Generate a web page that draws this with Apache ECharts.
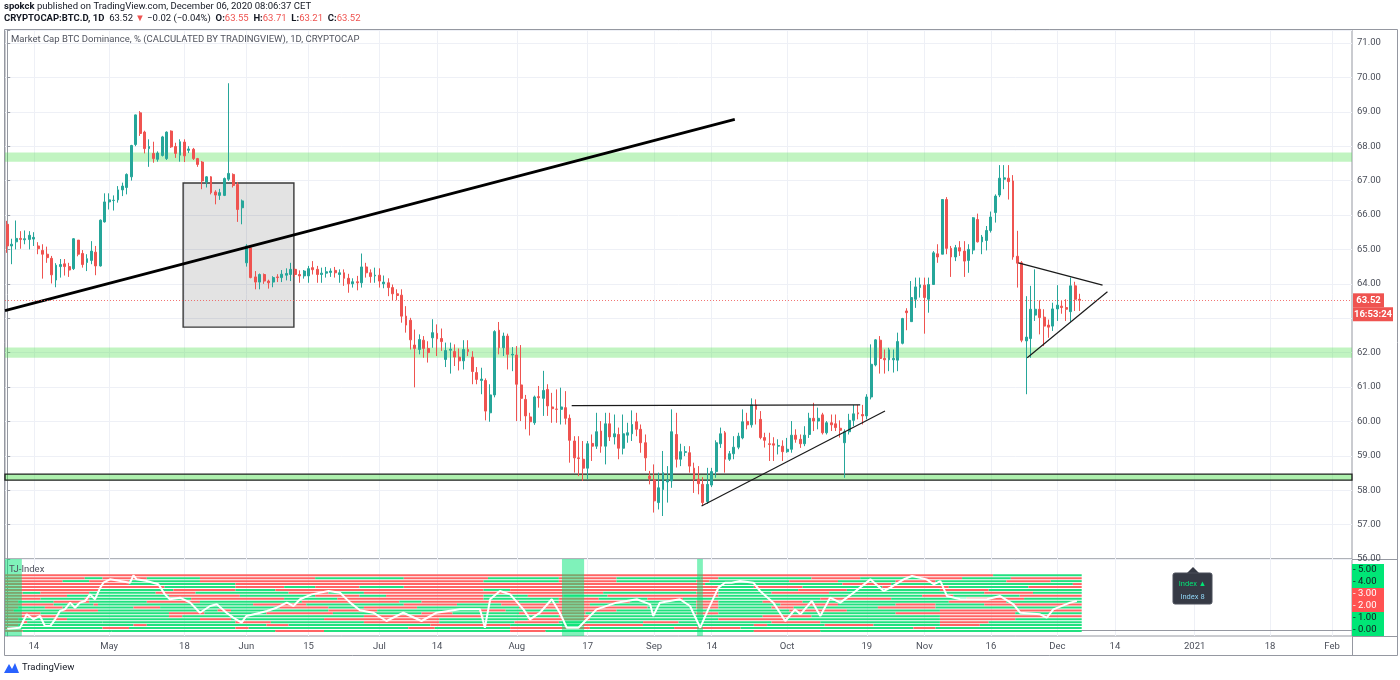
<!DOCTYPE html>
<html><head><meta charset="utf-8">
<script src="https://cdn.jsdelivr.net/npm/echarts@6/dist/echarts.min.js"></script>
<style>html,body{margin:0;padding:0;background:#fff;}#c{width:1400px;height:680px;}</style>
</head><body><div id="c"></div>
<script>
// ---- data (day index 0 = 2020-04-08) ----
const startDate = '2020-04-08';
const openVals = [65.73,65.10,65.22,65.32,65.28,65.29,65.30,65.10,64.97,64.86,
64.74,64.11,64.50,64.58,64.50,64.44,65.27,64.88,64.62,64.68,
64.92,64.52,65.80,66.38,66.42,66.44,66.73,66.80,67.11,68.05,
68.97,68.41,67.93,67.79,67.62,67.73,67.64,68.44,67.99,67.74,
68.12,67.88,67.91,67.64,67.54,66.96,67.11,66.67,66.57,66.57,
67.04,67.18,66.89,66.21,64.61,65.05,64.20,64.05,64.27,64.08,
64.05,64.20,64.18,64.25,64.27,64.42,64.27,64.23,64.23,64.47,
64.42,64.27,64.31,64.33,64.39,64.27,64.32,64.16,64.00,64.06,
64.03,64.49,64.32,64.23,64.25,64.00,64.03,63.89,63.71,63.67,
63.06,62.94,62.22,62.09,62.36,62.12,62.43,62.56,62.41,61.80,
62.07,62.03,61.87,61.76,62.09,61.87,61.42,61.19,61.19,60.25,
60.77,62.65,62.14,62.48,61.93,61.93,61.06,60.64,60.13,59.96,
60.72,60.67,60.93,60.42,60.36,60.35,60.40,60.09,59.43,58.94,
58.90,58.64,59.36,59.28,59.72,59.28,59.93,59.55,59.62,59.22,
59.60,59.64,59.99,59.77,59.38,58.41,58.30,57.64,58.02,58.24,
58.27,59.62,58.90,59.10,59.09,58.64,58.32,58.17,57.67,58.15,
58.54,59.35,59.67,58.90,59.06,59.25,59.52,60.00,59.90,60.48,
60.06,59.53,59.35,59.35,59.28,59.28,59.12,59.19,59.60,59.48,
59.35,59.62,60.09,60.01,60.19,59.67,59.96,59.93,59.80,59.38,
59.70,60.03,60.25,60.20,60.16,60.71,61.64,62.36,61.83,61.79,
61.79,61.78,62.27,63.21,62.90,63.55,63.89,63.96,63.55,63.98,
64.87,64.86,66.45,65.03,64.78,65.05,64.95,64.68,64.98,65.87,
65.22,65.26,65.55,66.07,66.58,67.04,67.07,66.99,64.80,64.61,
62.34,62.41,63.09,63.26,63.03,62.80,62.77,63.27,63.35,63.31,
63.19,63.94,63.55];
const closeVals = [65.10,65.15,65.32,65.29,65.31,65.41,65.35,65.02,64.86,64.76,
64.26,64.54,64.56,64.50,64.40,65.31,64.86,64.56,64.73,64.95,
64.52,65.85,66.38,66.44,66.43,66.73,66.84,67.18,68.02,68.91,
68.37,67.93,67.99,67.64,67.80,68.27,68.41,67.98,67.79,68.13,
67.72,67.92,67.64,67.47,66.99,67.11,66.65,66.58,66.65,67.06,
67.21,66.86,66.16,66.41,65.10,64.18,64.05,64.27,64.08,64.03,
64.18,64.18,64.28,64.30,64.42,64.27,64.23,64.37,64.44,64.41,
64.27,64.31,64.35,64.37,64.32,64.32,64.16,64.00,64.06,64.03,
64.49,64.32,64.21,64.25,64.08,64.05,63.89,63.71,63.66,63.06,
62.80,62.37,62.12,62.38,62.12,62.00,62.58,62.40,62.32,62.06,
62.10,61.87,61.76,62.09,62.03,61.45,61.22,61.23,60.30,60.77,
62.61,62.14,62.48,61.95,61.95,61.08,60.67,60.16,59.99,60.71,
60.69,60.90,60.45,60.37,60.35,60.42,60.09,59.45,58.94,58.92,
58.64,59.35,59.28,59.70,59.28,59.93,59.55,59.64,59.22,59.64,
59.67,59.91,59.77,59.38,58.94,58.34,57.69,58.07,58.51,58.29,
59.70,58.90,59.12,59.12,58.70,58.32,58.19,57.64,58.17,58.54,
59.38,59.64,58.90,59.06,59.25,59.57,59.99,59.90,60.48,60.35,
59.53,59.45,59.33,59.31,59.30,59.12,59.19,59.60,59.48,59.35,
59.60,60.09,60.01,60.09,59.67,59.96,59.90,59.82,59.74,59.70,
60.03,60.22,60.22,60.16,60.71,61.66,62.37,61.83,61.79,62.08,
61.83,62.32,62.99,63.16,63.60,63.91,63.97,63.60,63.98,64.90,
64.78,66.45,65.03,64.78,65.05,64.95,64.66,65.00,65.92,65.22,
65.36,65.55,65.94,66.55,67.07,67.08,66.97,64.78,64.60,62.36,
62.45,63.26,63.26,63.02,62.77,62.74,63.27,63.38,63.31,63.26,
63.94,63.55,63.52];
const lowVals = [64.90,64.57,65.00,65.02,65.15,65.00,65.10,64.86,64.15,64.61,
64.01,63.90,64.18,64.24,64.20,64.40,64.80,64.47,64.37,64.57,
64.25,64.50,65.78,66.16,66.13,66.36,66.55,66.60,67.00,68.00,
68.30,67.79,67.40,67.52,67.55,67.70,67.60,67.95,67.66,67.55,
67.54,67.80,67.60,67.40,66.75,66.80,66.60,66.31,66.44,66.55,
66.99,66.80,65.80,65.73,64.50,64.16,63.84,63.84,64.00,63.86,
63.90,64.05,64.05,64.10,64.08,64.20,64.03,64.15,64.03,64.27,
64.03,64.03,64.18,64.20,64.18,64.03,63.94,63.74,63.89,63.81,
63.89,64.18,64.03,64.03,63.89,63.87,63.64,63.52,63.52,62.87,
62.58,62.09,60.99,61.95,61.85,61.71,62.14,61.90,62.05,61.58,
61.39,61.61,61.48,61.51,61.90,61.08,61.08,60.79,60.03,59.99,
60.70,61.95,61.90,61.51,61.46,60.01,60.01,59.77,59.59,59.90,
60.40,60.16,60.16,59.96,59.96,59.91,59.91,58.80,58.51,58.41,
58.27,58.32,58.85,59.20,59.09,58.75,59.43,59.33,58.90,59.04,
59.38,59.43,59.57,59.09,58.56,58.17,57.35,57.44,57.25,57.64,
58.07,58.66,58.70,58.99,58.51,57.92,57.88,57.54,57.60,58.09,
58.36,59.23,58.51,58.85,58.90,59.19,59.48,59.77,59.82,59.91,
59.48,59.24,58.85,58.85,59.04,58.85,59.09,59.09,59.38,59.23,
59.28,59.52,59.72,59.77,59.62,59.62,59.72,59.72,59.53,58.36,
59.62,59.86,60.06,59.91,60.06,60.64,61.60,61.39,61.39,61.46,
61.42,61.46,62.24,62.65,62.90,63.30,63.60,62.55,63.16,63.98,
64.61,64.86,64.86,64.20,64.66,64.81,64.20,64.32,64.86,65.20,
64.86,64.97,65.49,65.78,66.52,66.75,66.45,64.70,63.89,62.30,
60.79,61.85,62.92,62.53,62.19,62.43,62.63,62.92,63.13,62.92,
62.90,63.21,63.21];
const highVals = [65.83,65.31,65.84,65.53,65.55,65.53,65.50,65.21,65.15,65.08,
64.81,64.60,64.72,64.72,64.61,65.33,65.27,64.98,64.86,65.24,
65.10,65.87,66.63,66.63,66.57,66.84,66.94,67.21,68.04,68.92,
69.02,68.45,68.20,68.13,67.85,68.30,68.43,68.46,68.10,68.20,
68.20,68.00,67.95,67.66,67.57,67.13,67.13,66.72,66.76,67.09,
69.83,67.21,66.96,66.45,65.15,65.10,64.37,64.30,64.30,64.12,
64.22,64.28,64.40,64.45,64.61,64.45,64.39,64.40,64.52,64.66,
64.52,64.47,64.49,64.45,64.49,64.42,64.42,64.29,64.16,64.23,
64.88,64.61,64.42,64.47,64.45,64.24,64.16,63.98,63.84,63.84,
63.35,63.01,62.67,62.53,62.48,62.33,62.97,62.82,62.70,62.29,
62.29,62.24,62.12,62.36,62.36,62.04,61.58,61.56,61.25,61.08,
62.65,62.89,62.58,62.55,62.16,62.19,62.22,60.77,60.25,60.75,
61.03,61.47,61.08,60.83,60.93,60.98,60.88,60.20,59.57,59.57,
59.43,59.43,59.62,60.25,60.01,60.25,60.25,60.20,59.82,60.20,
59.96,60.32,60.25,59.91,59.62,58.56,58.75,58.51,59.14,58.70,
60.35,60.25,59.35,59.28,59.28,58.80,58.70,58.38,58.65,58.65,
59.45,59.82,59.72,59.14,59.57,59.67,60.35,60.25,60.67,60.64,
60.30,59.67,59.67,59.54,59.48,59.45,59.52,60.01,59.77,59.62,
59.86,60.25,60.54,60.40,60.25,60.01,60.20,60.20,60.03,59.77,
60.22,60.48,60.48,60.48,60.79,62.24,62.39,62.48,62.09,62.14,
62.09,62.58,63.01,63.29,64.08,64.18,64.18,64.18,64.18,64.95,
65.15,66.46,66.52,65.10,65.13,65.24,65.24,65.15,65.94,66.04,
65.42,65.68,66.10,66.60,67.45,67.45,67.45,67.16,65.54,64.66,
63.64,63.94,64.42,63.52,63.26,62.96,63.45,63.96,63.50,63.55,
64.18,64.06,63.71];

const tickDays = [6,23,40,54,68,84,97,115,131,146,159,176,194,207,222,237,250,268,285,299];
const tickLabels = ['14','May','18','Jun','15','Jul','14','Aug','17','Sep','14','Oct','19','Nov','16','Dec','14','2021','18','Feb'];
const lastDayOnAxis = 303;

// drawings (day index, price)
const zoneBands = [[67.55,67.82],[61.85,62.15]];
const supportBand = [58.29,58.47];
const greyBox = [[39.7,66.93],[64.7,62.74]];
const mainTrend = [[-0.5,63.22],[164.2,68.78]];
const thinLines = [
  [[127.4,60.46],[192.5,60.48]],
  [[156.7,57.54],[198.1,60.30]],
  [[228.2,64.61],[247.2,63.96]],
  [[230.2,61.85],[248.3,63.77]]
];

// TJ-Index pane
const tjDays = [0,2.9,4.4,5.9,7.4,8.5,9.7,10.8,11.9,13.0,14.2,15.3,16.4,17.6,18.7,19.8,21.0,21.7,23.2,25.5,27.7,28.5,29.2,31.5,34.1,35.6,36.7,39.0,41.3,43.5,45.8,47.3,49.5,51.0,52.9,54.0,57.1,58.6,60.8,63.1,64.6,66.1,68.7,72.5,75.1,77.4,79.6,
82.6,85.6,89.4,93.5,96.9,102.2,106.7,107.8,109.0,111.2,113.5,116.5,118.0,120.2,122.9,124.7,126.3,128.9,130.8,133.0,137.5,142.1,145.1,145.8,147.3,151.8,154.1,156.4,158.2,160.5,162.0,
163.5,165.4,168.4,169.9,172.9,175.6,177.8,179.0,181.6,183.5,185.7,188.0,191.0,194.8,197.8,199.3,202.3,204.2,207.5,209.1,210.6,212.1,215.1,221.1,224.1,227.1,228.6,233.1,234.6,236.1,239.9,241.4];
const tjVals = [0.10,0.19,1.31,0.89,1.17,0.33,0.33,0.89,1.58,1.72,2.28,1.86,2.28,2.42,2.97,2.56,3.53,3.94,4.22,4.08,3.94,4.56,4.22,4.08,3.81,2.97,2.56,2.69,2.28,1.44,2.00,2.14,1.44,1.03,0.61,1.17,1.44,1.58,1.86,2.28,2.00,2.56,2.97,3.25,3.11,2.28,1.65,
1.44,0.75,1.44,0.75,1.44,1.72,1.72,0.19,2.56,3.25,2.97,1.72,0.89,1.44,2.56,1.44,0.19,0.19,0.89,1.72,2.28,2.56,2.14,1.17,2.28,2.56,2.00,0.19,1.72,3.53,3.94,
3.94,4.08,3.94,3.25,2.28,0.75,1.72,1.31,2.42,1.17,2.69,2.28,3.11,4.22,3.25,3.53,4.22,4.50,4.22,3.81,4.08,2.83,2.56,2.56,2.83,2.14,1.44,1.31,1.03,1.72,2.28,2.42];
const stripeLevels = [4.56,4.316,4.072,3.828,3.584,3.34,3.096,2.852,2.608,2.364,2.12,1.876,1.632,1.388,1.144,0.90,0.656,0.412,0.168,-0.076];
const stripeGreenRuns = [
  [[223,242]],
  [[18,21],[32,43],[70,89],[109,124],[138,156],[161,181],[193,206],[216,226]],
  [[13,18],[28,43],[108,124],[138,155],[159,176],[188,200],[210,225],[236,242]],
  [[28,51],[158,188],[200,240]],
  [[36,51],[63,69],[80,89],[161,168],[180,197],[213,230]],
  [[21,37],[52,60],[108,113],[161,178],[190,210],[222,242]],
  [[4,7],[19,33],[43,63],[73,80],[135,155],[161,172],[186,220],[232,242]],
  [[14,36],[53,69],[80,85],[108,117],[126,135],[161,206],[214,228]],
  [[8,17],[19,41],[63,74],[108,124],[134,144],[153,183],[200,216],[230,242]],
  [[3,10],[19,31],[44,66],[89,93],[116,124],[141,155],[161,170],[180,212],[226,242]],
  [[11,19],[21,55],[68,89],[102,111],[132,155],[161,174],[188,200],[210,220]],
  [[3,8],[13,28],[35,61],[73,80],[93,115],[145,155],[161,172],[178,196],[210,242]],
  [[2,12],[21,47],[51,72],[84,106],[113,124],[138,176],[190,210]],
  [[8,36],[45,58],[74,93],[101,115],[131,155],[161,200],[228,242]],
  [[12,36],[40,80],[108,124],[132,170],[182,210]],
  [[3,10],[14,43],[51,71],[98,117],[132,160],[176,210],[228,242]],
  [[5,21],[22,51],[60,80],[98,114],[125,143],[152,172],[184,210],[222,242]],
  [[3,28],[32,58],[64,95],[114,129],[144,168],[172,184],[196,210],[220,242]],
  [[3,21],[28,51],[55,90],[97,113],[132,150],[166,204],[210,242]],
  [[4,23],[24,60],[72,113],[122,168],[184,242]]
];
const highlightSpans = [[-0.5,3.3],[125.2,130.2],[155.7,157.0]];

// ---- build ----
const FONT = 'Roboto, "Noto Sans", sans-serif';
const UP = '#26a69a', DOWN = '#ef5350';
const candleData = openVals.map((o,i)=>[i,o,closeVals[i],lowVals[i],highVals[i]]);
const lastIdx = openVals.length - 1;
const stripeItems = [];
stripeGreenRuns.forEach((runs, r) => {
  const lv = stripeLevels[r];
  let cur = 0;
  runs.forEach(([a,b]) => {
    if (a > cur) stripeItems.push([cur, a-1, lv, 0]);
    stripeItems.push([a, b, lv, 1]);
    cur = b + 1;
  });
  if (cur <= lastIdx) stripeItems.push([cur, lastIdx, lv, 0]);
});

const chart = echarts.init(document.getElementById('c'), null, {renderer:'canvas'});
const axisGray = '#9598a1';
const gridLine = '#eef0f6';
const isInt = v => Math.abs(v - Math.round(v)) < 1e-6;

const option = {
  animation: false,
  backgroundColor: '#ffffff',
  textStyle: {fontFamily: FONT},
  title: [
    {left:4, top:2, padding:0, text:'{b|spokck} published on TradingView.com, December 06, 2020 08:06:37 CET',
     textStyle:{fontSize:9.5, fontWeight:'normal', color:'#131722', fontFamily:FONT, rich:{b:{fontWeight:'bold', fontSize:9.5, color:'#131722'}}}},
    {left:4, top:14, padding:0, text:'{b|CRYPTOCAP:BTC.D, 1D}  63.52 {r|▼} −0.02 (−0.04%)  {b|O:}{r|63.55}  {b|H:}{r|63.71}  {b|L:}{r|63.21}  {b|C:}{r|63.52}',
     textStyle:{fontSize:9.5, fontWeight:'normal', color:'#131722', fontFamily:FONT, rich:{b:{fontWeight:'bold', fontSize:9.5, color:'#131722'}, r:{color:DOWN, fontSize:9.5}}}},
    {left:11, top:35, padding:0, text:'Market Cap BTC Dominance, % (CALCULATED BY TRADINGVIEW), 1D, CRYPTOCAP',
     textStyle:{fontSize:9.5, fontWeight:'normal', color:'#50535e', fontFamily:FONT}},
    {left:9, top:565, padding:0, text:'TJ-Index', textStyle:{fontSize:9.5, fontWeight:'normal', color:'#50535e', fontFamily:FONT}},
    {left:22, top:663, padding:0, text:'TradingView', textStyle:{fontSize:9.5, fontWeight:'normal', color:'#131722', fontFamily:FONT}}
  ],
  grid: [
    {left:5, top:30, width:1347, height:529, show:true, borderColor:axisGray, borderWidth:1, backgroundColor:'transparent'},
    {left:5, top:559, width:1347, height:77, show:true, borderColor:axisGray, borderWidth:1, backgroundColor:'transparent'}
  ],
  xAxis: [
    {type:'value', gridIndex:0, min:-0.5, max:lastDayOnAxis+0.5,
     axisLine:{show:false}, axisLabel:{show:false},
     axisTick:{show:false, customValues:tickDays},
     splitLine:{show:true, lineStyle:{color:gridLine, width:1}}},
    {type:'value', gridIndex:1, min:-0.5, max:lastDayOnAxis+0.5,
     axisLine:{show:true, lineStyle:{color:axisGray}},
     axisTick:{show:false, customValues:tickDays},
     axisLabel:{customValues:tickDays, margin:6, fontSize:9.5, color:'#4b4f5a', fontFamily:FONT,
       formatter: v => { const k = tickDays.indexOf(Math.round(v)); return k >= 0 ? tickLabels[k] : ''; }},
     splitLine:{show:true, lineStyle:{color:gridLine, width:1}}}
  ],
  yAxis: [
    {type:'value', gridIndex:0, position:'right', min:56, max:56+529/34.4, interval:1, scale:true,
     axisLine:{show:true, lineStyle:{color:axisGray}},
     axisTick:{show:true, length:3, lineStyle:{color:axisGray}},
     axisLabel:{margin:5, fontSize:9.5, color:'#4b4f5a', fontFamily:FONT,
       formatter: v => isInt(v) ? v.toFixed(2) : ''},
     splitLine:{show:true, lineStyle:{color:gridLine, width:1}}},
    {type:'value', gridIndex:1, position:'right', min:-0.5, max:-0.5+77/12, interval:0.5,
     axisLine:{show:true, lineStyle:{color:axisGray}},
     axisTick:{show:false},
     axisLabel:{margin:0, fontSize:9.5, fontFamily:FONT,
       formatter: v => {
         if (!isInt(v) || v < 0 || v > 5) return '';
         const k = (v >= 4 || v <= 1) ? 'g' : 'r';
         return '{' + k + '|- ' + v.toFixed(2) + '}';
       },
       rich:{
         g:{backgroundColor:'#00e676', color:'#131722', padding:[1,4,1,1], lineHeight:10, fontSize:9.5, width:27},
         r:{backgroundColor:'#ff5252', color:'#ffffff', padding:[1,4,1,1], lineHeight:10, fontSize:9.5, width:27}
       }},
     splitLine:{show:false}}
  ],
  series: [
    {
      type:'candlestick', name:'BTC.D', xAxisIndex:0, yAxisIndex:0, z:3,
      data: candleData, barWidth:2.4,
      itemStyle:{color:UP, color0:DOWN, borderColor:UP, borderColor0:DOWN, borderWidth:1},
      markArea:{
        silent:true,
        data:[
          ...zoneBands.map(b => [{yAxis:b[1], itemStyle:{color:'rgba(76,224,76,0.35)', borderWidth:0}}, {yAxis:b[0]}]),
          [{yAxis:supportBand[1], itemStyle:{color:'rgba(76,224,76,0.45)', borderColor:'#202020', borderWidth:1.3}}, {yAxis:supportBand[0]}],
          [{coord:greyBox[0], itemStyle:{color:'rgba(0,0,0,0.11)', borderColor:'#3a3a3a', borderWidth:1.4}}, {coord:greyBox[1]}]
        ]
      },
      markLine:{
        silent:true, symbol:['none','none'], label:{show:false}, precision:4,
        data:[
          [{coord:mainTrend[0], lineStyle:{color:'#000000', width:2.6, type:'solid'}}, {coord:mainTrend[1]}],
          ...thinLines.map(l => [{coord:l[0], lineStyle:{color:'#1a1a1a', width:1.2, type:'solid'}}, {coord:l[1]}]),
          {yAxis:closeVals[lastIdx], lineStyle:{color:DOWN, width:1, type:[1,2], opacity:0.8}}
        ]
      }
    },
    {
      type:'custom', name:'stripes', xAxisIndex:1, yAxisIndex:1, z:2, silent:true,
      data: stripeItems, encode:{x:[0,1], y:2},
      renderItem: (params, api) => {
        const s = api.coord([api.value(0)-0.5, api.value(2)]);
        const e = api.coord([api.value(1)+0.5, api.value(2)]);
        return {type:'rect', shape:{x:s[0], y:s[1]-1, width:e[0]-s[0], height:2},
                style:{fill: api.value(3) ? '#22e07f' : '#ff6464'}};
      }
    },
    {
      type:'custom', name:'highlight', xAxisIndex:1, yAxisIndex:1, z:3, silent:true,
      data: highlightSpans.map(s => [s[0], s[1], 0]), encode:{x:[0,1], y:2},
      renderItem: (params, api) => {
        const a = api.coord([api.value(0), 0]);
        const b = api.coord([api.value(1), 0]);
        const cs = params.coordSys;
        return {type:'rect', shape:{x:a[0], y:cs.y, width:b[0]-a[0], height:cs.height},
                style:{fill:'rgba(0,230,118,0.5)'}};
      }
    },
    {
      type:'line', name:'TJ-Index', xAxisIndex:1, yAxisIndex:1, z:4, silent:true,
      data: tjDays.map((d,i)=>[d,tjVals[i]]), symbol:'none',
      lineStyle:{color:'#ffffff', width:2}
    }
  ]
};
chart.setOption(option);

// overlay items that follow the library's scales
const py = chart.convertToPixel({yAxisIndex:0}, closeVals[lastIdx]);
chart.setOption({graphic:[
  {type:'rect', silent:true, shape:{x:4.5, y:29.5, width:1393, height:626}, style:{fill:'none', stroke:axisGray, lineWidth:1}},
  {type:'line', silent:true, shape:{x1:1352.5, y1:636, x2:1352.5, y2:655.5}, style:{stroke:axisGray, lineWidth:1}},
  {type:'line', silent:true, shape:{x1:1352, y1:559.5, x2:1397.5, y2:559.5}, style:{stroke:axisGray, lineWidth:1}},
  {type:'line', silent:true, shape:{x1:1352, y1:636.5, x2:1397.5, y2:636.5}, style:{stroke:axisGray, lineWidth:1}},
  {type:'rect', silent:true, z:100, shape:{x:1353, y:py-7, width:31, height:14}, style:{fill:DOWN}},
  {type:'text', silent:true, z:101, x:1368.5, y:py, style:{text:closeVals[lastIdx].toFixed(2), fill:'#fff', font:'bold 9.5px '+FONT, align:'center', verticalAlign:'middle'}},
  {type:'rect', silent:true, z:100, shape:{x:1353, y:py+7, width:40, height:14}, style:{fill:DOWN}},
  {type:'text', silent:true, z:101, x:1373, y:py+14, style:{text:'16:53:24', fill:'#fff', font:'bold 9.5px '+FONT, align:'center', verticalAlign:'middle'}},
  {type:'polygon', silent:true, z:100, shape:{points:[[1187,573],[1193,567],[1199,573]]}, style:{fill:'#363a45'}},
  {type:'rect', silent:true, z:100, shape:{x:1173, y:573, width:39, height:31, r:2}, style:{fill:'#363a45', stroke:'#4a4e5a', lineWidth:1}},
  {type:'text', silent:true, z:101, x:1192.5, y:584, style:{text:'Index ▲', fill:'#00e676', font:'7.5px '+FONT, align:'center', verticalAlign:'middle'}},
  {type:'text', silent:true, z:101, x:1192.5, y:597, style:{text:'Index 8', fill:'#8fd3f4', font:'7.5px '+FONT, align:'center', verticalAlign:'middle'}},
  {type:'polygon', silent:true, z:100, shape:{points:[[4,673],[9,664],[12,669],[15,663],[19,673]]}, style:{fill:'#2962ff'}}
]});
</script></body></html>
